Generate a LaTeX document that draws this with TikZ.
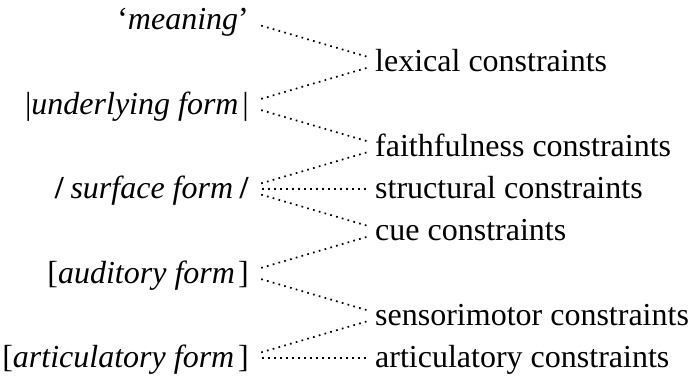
\documentclass[tikz,border=0pt]{standalone}
\usepackage{fontspec}
\setmainfont{Liberation Serif}
\begin{document}
\begin{tikzpicture}[x=1pt,y=1pt,
  every node/.style={font=\fontsize{32}{38}\selectfont, inner sep=0pt,
    text height=25.6pt, text depth=6.4pt},
  form/.style={anchor=east},
  con/.style={anchor=west},
  link/.style={line width=1.7pt, dash pattern=on 1.7pt off 4.3pt,
    shorten <=20pt, shorten >=19pt}]
\useasboundingbox (0,0) rectangle (692,375);
% left column (forms)
\node[form] (mea) at (249,355)   {‘\textit{meaning}\/’};
\node[form] (und) at (249,270.5) {|\textit{underlying form}\/\hspace{0.12em}|};
\node[form] (sur) at (249,186)   {\textbf{/}\hspace{0.2em}\textit{surface form}\hspace{0.2em}\textbf{/}};
\node[form] (aud) at (249,101.5) {[\textit{auditory form}\/\hspace{0.1em}]};
\node[form] (art) at (249,17)    {[\textit{articulatory form}\/\hspace{0.12em}]};
% right column (constraints)
\node[con] (lex) at (375,312.75) {lexical constraints};
\node[con] (fai) at (375,228.25) {faithfulness constraints};
\node[con] (str) at (375,186)    {structural constraints};
\node[con] (cue) at (375,143.75) {cue constraints};
\node[con] (sen) at (375,59.25)  {sensorimotor constraints};
\node[con] (arc) at (375,17)     {articulatory constraints};
% connectors
\draw[link] ([xshift=-7pt]mea.east) -- ([xshift=11pt]lex.west);
\draw[link] ([xshift=-7pt]und.east) -- ([xshift=11pt]lex.west);
\draw[link] ([xshift=-7pt]und.east) -- ([xshift=11pt]fai.west);
\draw[link] ([xshift=-7pt]sur.east) -- ([xshift=11pt]fai.west);
\draw[link] ([xshift=-7pt]sur.east) -- ([xshift=11pt]str.west);
\draw[link] ([xshift=-7pt]sur.east) -- ([xshift=11pt]cue.west);
\draw[link] ([xshift=-7pt]aud.east) -- ([xshift=11pt]cue.west);
\draw[link] ([xshift=-7pt]aud.east) -- ([xshift=11pt]sen.west);
\draw[link] ([xshift=-7pt]art.east) -- ([xshift=11pt]sen.west);
\draw[link] ([xshift=-7pt]art.east) -- ([xshift=11pt]arc.west);
\end{tikzpicture}
\end{document}
